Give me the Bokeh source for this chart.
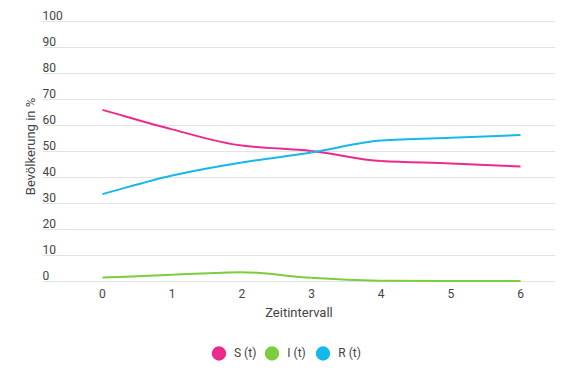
from bokeh.plotting import figure
from bokeh.layouts import column
from bokeh.models import Range1d, FixedTicker, Legend, LegendItem, ColumnDataSource
from bokeh.core.properties import value
from bokeh.embed import file_html
from bokeh.resources import INLINE

# ---- data ----
t = [0, 1, 2, 3, 4, 5, 6]
S = [66.0, 58.5, 52.3, 50.2, 46.3, 45.4, 44.2]
I = [1.5, 2.6, 3.6, 1.4, 0.3, 0.2, 0.2]
R = [33.6, 40.8, 45.8, 49.6, 54.2, 55.3, 56.3]
series_names = ["S (t)", "I (t)", "R (t)"]
series_colors = ["#ec2a8b", "#7ccd3c", "#16b7ea"]
y_ticks = [0, 10, 20, 30, 40, 50, 60, 70, 80, 90, 100]
x_ticks = [0, 1, 2, 3, 4, 5, 6]

FONT = "Roboto"
TXT = "#444444"

X0, X1 = -0.861, 6.502
p = figure(width=582, height=330, output_backend="svg", toolbar_location=None,
           x_range=Range1d(X0, X1), y_range=Range1d(-0.385, 104.23),
           min_border_left=42, min_border_right=27, min_border_top=10, min_border_bottom=48)
p.outline_line_color = None
p.background_fill_color = None
p.border_fill_color = None

# grid
p.xgrid.grid_line_color = None
p.ygrid.ticker = FixedTicker(ticks=y_ticks)
p.ygrid.grid_line_color = "#e3e3e3"
p.ygrid.grid_line_width = 1

# x axis
xa = p.xaxis[0]
xa.ticker = FixedTicker(ticks=x_ticks)
xa.axis_line_color = None
xa.major_tick_line_color = None
xa.minor_tick_line_color = None
xa.major_label_standoff = 0
xa.major_label_text_font = FONT
xa.major_label_text_font_size = "12px"
xa.major_label_text_color = TXT
xa.axis_label = "Zeitintervall"
xa.axis_label_text_font = FONT
xa.axis_label_text_font_size = "13px"
xa.axis_label_text_font_style = "normal"
xa.axis_label_text_color = TXT
xa.axis_label_standoff = 4

# y axis (label only)
ya = p.yaxis[0]
ya.ticker = FixedTicker(ticks=[])
ya.axis_line_color = None
ya.major_tick_line_color = None
ya.minor_tick_line_color = None
ya.axis_label = "Bevölkerung in %"
ya.axis_label_text_font = FONT
ya.axis_label_text_font_size = "13px"
ya.axis_label_text_font_style = "normal"
ya.axis_label_text_color = TXT
ya.axis_label_standoff = 5

# y tick labels drawn above gridlines
p.text(x=[X0] * len(y_ticks), y=y_ticks, text=[str(v) for v in y_ticks],
       text_font=value(FONT), text_font_size="12px", text_color=TXT,
       text_baseline="middle", text_align="left", y_offset=-6)


def monotone_bezier(xs, ys):
    n = len(xs)
    d = [(ys[i + 1] - ys[i]) / (xs[i + 1] - xs[i]) for i in range(n - 1)]
    m = [0.0] * n
    m[0] = d[0]
    m[-1] = d[-1]
    for i in range(1, n - 1):
        if d[i - 1] * d[i] <= 0:
            m[i] = 0.0
        else:
            m[i] = 2 / (1 / d[i - 1] + 1 / d[i])
    src = dict(x0=[], y0=[], x1=[], y1=[], cx0=[], cy0=[], cx1=[], cy1=[])
    for i in range(n - 1):
        h = xs[i + 1] - xs[i]
        src["x0"].append(xs[i]); src["y0"].append(ys[i])
        src["x1"].append(xs[i + 1]); src["y1"].append(ys[i + 1])
        src["cx0"].append(xs[i] + h / 3); src["cy0"].append(ys[i] + m[i] * h / 3)
        src["cx1"].append(xs[i + 1] - h / 3); src["cy1"].append(ys[i + 1] - m[i + 1] * h / 3)
    return ColumnDataSource(src)


# legend figure below the chart
lf = figure(width=582, height=51, output_backend="svg", toolbar_location=None,
            x_range=Range1d(0, 1), y_range=Range1d(0, 1),
            x_axis_location=None, y_axis_location=None,
            min_border_left=0, min_border_right=0, min_border_top=0, min_border_bottom=0)
lf.outline_line_color = None
lf.xgrid.visible = False
lf.ygrid.visible = False
lf.background_fill_color = None
lf.border_fill_color = None

items = []
for name, ys, col in zip(series_names, [S, I, R], series_colors):
    p.bezier(x0="x0", y0="y0", x1="x1", y1="y1", cx0="cx0", cy0="cy0", cx1="cx1", cy1="cy1",
             source=monotone_bezier(t, ys), line_color=col, line_width=2)
    dot = lf.scatter(x=t, y=ys, marker="circle", fill_color=col, line_color=col,
                     line_width=2, visible=False)
    items.append(LegendItem(label=name, renderers=[dot]))

legend = Legend(items=items, orientation="horizontal", location=(161, 9),
                glyph_width=31, glyph_height=38, label_height=38, label_standoff=0,
                spacing=0, padding=0, margin=0,
                label_text_font=FONT, label_text_font_size="12px", label_text_color=TXT,
                background_fill_alpha=0, border_line_color=None)
lf.add_layout(legend)

layout = column(p, lf, spacing=0)
open("out.html", "w").write(file_html(layout, INLINE))
